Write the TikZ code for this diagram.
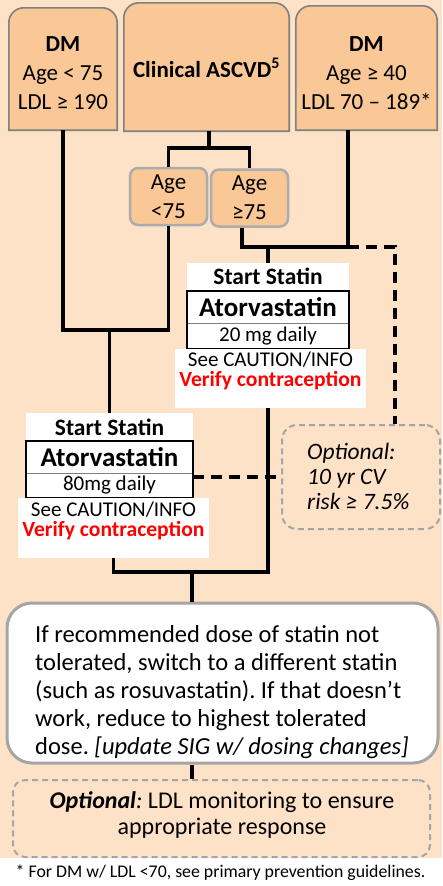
\documentclass[tikz,border=0pt]{standalone}
\usepackage{fontspec}
\setmainfont{Carlito}
\usetikzlibrary{calc}
\frenchspacing
\definecolor{bgpeach}{RGB}{253,226,200}
\definecolor{boxorange}{RGB}{250,199,150}
\definecolor{bordgray}{RGB}{128,128,128}
\definecolor{agegray}{RGB}{172,172,172}
\definecolor{dashgray}{RGB}{165,165,165}
\definecolor{vred}{RGB}{255,0,0}
\newcommand\fmain{\fontsize{23}{29}\selectfont}
\newcommand\verifyline{\fontsize{21.6}{20.5}\selectfont\textcolor{vred}{\bfseries Verify contraception}}
\tikzset{
  topbox/.style={fill=boxorange,draw=bordgray,line width=1.6pt},
  hollow/.style={inner sep=0pt,draw=none,fill=none},
  agebox/.style={fill=boxorange,draw=agegray,line width=2.5pt,rounded corners=8pt,inner sep=0pt,
    minimum width=77pt,minimum height=57pt,align=center,font=\fontsize{23}{29}\selectfont},
  hdr/.style={fill=white,inner sep=0pt,minimum height=27pt,font=\fontsize{23.5}{28}\selectfont\bfseries},
  drug/.style={fill=white,inner sep=0pt,minimum height=32pt,font=\fontsize{27}{30}\selectfont\bfseries},
  dose/.style={fill=white,inner sep=0pt,font=\fontsize{21}{25}\selectfont},
  notebg/.style={fill=white,inner sep=0pt,minimum width=191pt},
  notetext/.style={inner sep=0pt,align=center,font=\fontsize{21}{20.5}\selectfont},
  optbox/.style={draw=dashgray,line width=2pt,dash pattern=on 6pt off 4pt,inner sep=0pt},
  conn/.style={draw=black,line width=3.5pt},
  dashconn/.style={draw=black,line width=3.5pt,dash pattern=on 11pt off 7pt},
}
\begin{document}
\begin{tikzpicture}[x=1pt,y=-1pt]
\useasboundingbox (0,0) rectangle (442,886);
\fill[white] (0,0) rectangle (442,886);
\fill[bgpeach] (0,0) rectangle (442,858);

% top boxes
\node[hollow,minimum width=108pt,minimum height=122pt] (b1) at (63,69) {};
\node[hollow,minimum width=165pt,minimum height=128pt] (b2) at (206.5,67) {};
\node[hollow,minimum width=141pt,minimum height=124pt] (b3) at (366.5,68) {};
\foreach \b in {b1,b2,b3}{
  \draw[topbox] (\b.south west) [rounded corners=15pt] -- (\b.north west) -- (\b.north east) [sharp corners] -- (\b.south east) -- cycle;
}
\node[align=center,font=\fmain,inner sep=0pt] (b1t) at (63,73) {\textbf{DM}\\Age < 75\\LDL ≥ 190};
\node[font=\fmain\bfseries,inner sep=0pt] (b2t) at (206.5,68) {Clinical ASCVD\textsuperscript{5}};
\node[align=center,font=\fmain,inner sep=0pt] (b3t) at (366.5,73) {\textbf{DM}\\Age ≥ 40\\LDL 70 – 189*};

% age boxes
\node[agebox] (a1) at (168.5,196.5) {Age\\<75};
\node[agebox] (a2) at (249.5,198) {Age\\≥75};

% statin 1
\node[hdr,minimum width=162pt] (s1h) at (268,276.5) {Start Statin};
\node[drug,minimum width=162pt] (s1d) at (268,307) {Atorvastatin};
\node[dose,minimum width=162pt,minimum height=26pt] (s1m) at (268,336) {20 mg daily};
\draw[bordgray,line width=1pt] (s1d.south west) -- (s1d.south east);
\draw[black,line width=2pt] (s1d.north west) rectangle (s1m.south east);
\node[notebg,minimum height=59pt] (s1n) at (270.5,378.5) {};
\node[notetext] (s1t) at (270.5,371) {See CAUTION/INFO\\\verifyline};

% statin 2
\node[hdr,minimum width=167pt,minimum height=28pt] (s2h) at (109.5,427) {Start Statin};
\node[drug,minimum width=167pt] (s2d) at (109.5,457) {Atorvastatin};
\node[dose,minimum width=167pt,minimum height=25pt] (s2m) at (109.5,485.5) {80mg daily};
\draw[bordgray,line width=1pt] (s2d.south west) -- (s2d.south east);
\draw[black,line width=2pt] (s2d.north west) rectangle (s2m.south east);
\node[notebg,minimum height=60pt] (s2n) at (113.5,528) {};
\node[notetext] (s2t) at (113.5,521) {See CAUTION/INFO\\\verifyline};

% optional right box
\node[optbox,rounded corners=15pt,minimum width=158pt,minimum height=104pt] (o1) at (361,477) {};
\node[inner sep=0pt,anchor=west,align=left,font=\fontsize{23.5}{25}\selectfont\itshape] (o1t) at (307,476) {Optional:\\10 yr CV\\risk ≥ 7.5\%};

% big white box
\node[fill=white,draw=dashgray,line width=3pt,rounded corners=25pt,inner sep=0pt,minimum width=431pt,minimum height=160pt] (big) at (222.5,683) {};
\node[inner sep=0pt,anchor=north west,align=left,font=\fontsize{24.5}{28}\selectfont] (bigt) at (35,625) {If recommended dose of statin not\\tolerated, switch to a different statin\\(such as rosuvastatin). If that doesn’t\\work, reduce to highest tolerated\\dose. \textit{[update SIG w/ dosing changes]}};

% bottom optional box
\node[optbox,rounded corners=12pt,minimum width=417pt,minimum height=77pt] (o2) at (221.5,818.5) {};
\node[inner sep=0pt,align=center,font=\fontsize{24}{25.5}\selectfont] (o2t) at (222,815) {\textbf{\textit{Optional}}\textit{:} LDL monitoring to ensure\\appropriate response};

% footnote
\node[inner sep=0pt,font=\fontsize{17.8}{20}\selectfont] (fn) at (220.5,873) {* For DM w/ LDL <70, see primary prevention guidelines.};

% connectors
\coordinate (j1) at (168.5,330);
\coordinate (j2) at (209,148);
\coordinate (j3) at (348,247);
\coordinate (j4) at (395,247);
\coordinate (j5) at (268,572);
\coordinate (j6) at (192,572);
\draw[conn] (b1.south) |- (j1) -- (a1.south);
\draw[conn] (s2h.north) -- (s2h.north |- j1);
\draw[conn] (b2.south -| j2) -- (j2);
\draw[conn] (a1.north) |- (j2) -| (a2.north);
\draw[conn] ([xshift=-7.5pt]a2.south) |- (j3) -- (j3 |- b3.south);
\draw[conn] (s1h.north) -- (s1h.north |- j3);
\draw[dashconn] (j3) -- (j4) -- (j4 |- o1.north);
\draw[conn] (j5 |- s1n.south) -- (j5) -| (s2n.south);
\draw[conn] (j6) -- (j6 |- big.north);
\draw[dashconn] (s2m.east |- o1.west) -- (o1.west);
\draw[conn] (j6 |- big.south) -- (j6 |- o2.north);
\end{tikzpicture}
\end{document}
